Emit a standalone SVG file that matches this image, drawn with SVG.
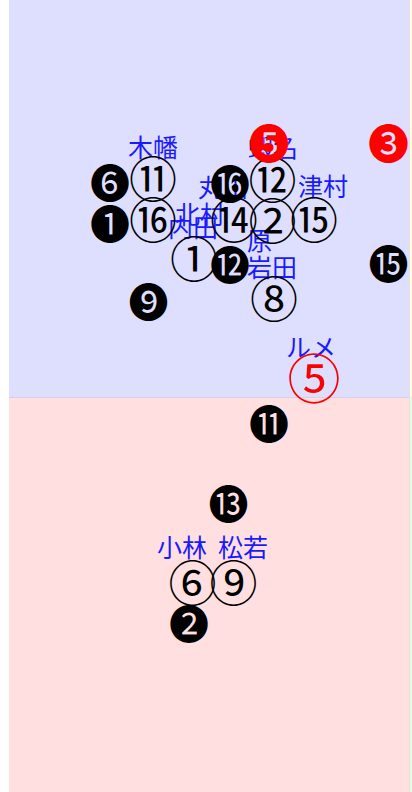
<svg xmlns="http://www.w3.org/2000/svg" width="412" height="792" viewBox="0 0 412 792">
<style>
.m{font-family:"Noto Sans CJK JP","DejaVu Sans",sans-serif;text-anchor:middle;dominant-baseline:central}
.w{font-size:48px;fill:#000}
.b{font-size:40px;fill:#000}
.r{font-size:41px;fill:#f00}
.rw{font-size:53px;fill:#f00}
.lb{font-family:"Noto Sans CJK JP",sans-serif;font-size:25px;fill:#1a1aff}
</style>
<rect x="0" y="0" width="412" height="792" fill="#fff"/>
<rect x="9" y="0" width="400" height="397" fill="#dedfff"/>
<rect x="9" y="397" width="400" height="395" fill="#ffdfdf"/>
<line x1="9" y1="397.5" x2="409" y2="397.5" stroke="#d6d0e6" stroke-width="1"/>
<rect x="409" y="0" width="3" height="397" fill="#ffffe0"/>
<rect x="409" y="397" width="3" height="395" fill="#e0ffe0"/>
<line x1="409.5" y1="0" x2="409.5" y2="792" stroke="#e8e0d8" stroke-width="1"/>
<g id="connectors"/>
<g id="labels">
<text id="l-kowata" class="lb" x="128" y="157">木幡</text>
<text id="l-ebina" class="lb" x="248" y="157">蝦名</text>
<text id="l-maruyama" class="lb" x="198" y="197">丸山</text>
<text id="l-tsumura" class="lb" x="298" y="196">津村</text>
<text id="l-kitamura" class="lb" x="175" y="224">北村</text>
<text id="l-uchida" class="lb" x="168" y="237">内田</text>
<text id="l-hara" class="lb" x="247" y="250">原</text>
<text id="l-iwata" class="lb" x="247" y="277">岩田</text>
<text id="l-rume" class="lb" x="286" y="357">ルメ</text>
<text id="l-kobayashi" class="lb" y="557"><tspan x="157">小林 </tspan><tspan x="218">松若</tspan></text>
</g>
<g id="n-b6"><text class="m b" x="110" y="181">❻</text></g>
<g id="n-b1"><text class="m b" x="110" y="222">❶</text></g>
<g id="n-w11"><text class="m w" x="153" y="176">⑪</text></g>
<g id="n-w16"><text class="m w" x="153" y="217">⑯</text></g>
<g id="n-b16"><text class="m b" x="230" y="182">⓰</text></g>
<g id="n-w12"><text class="m w" x="272.5" y="177">⑫</text></g>
<g id="n-w14"><text class="m w" x="234" y="217">⑭</text></g>
<g id="n-w2"><text class="m w" x="272.5" y="218">②</text></g>
<g id="n-w15"><text class="m w" x="314" y="217">⑮</text></g>
<g id="n-w1"><text class="m w" x="194" y="256">①</text></g>
<g id="n-b12"><text class="m b" x="230" y="263">⓬</text></g>
<g id="n-b9"><text class="m b" x="148.5" y="299.5">❾</text></g>
<g id="n-b15"><text class="m b" x="388.5" y="261.5">⓯</text></g>
<g id="n-w8"><text class="m w" x="274" y="295.5">⑧</text></g>
<g id="n-r5f"><text class="m r" x="269" y="140.5">❺</text></g>
<g id="n-r3"><text class="m r" x="388.5" y="140.5">❸</text></g>
<g id="n-r5"><text class="m rw" x="314" y="376">⑤</text></g>
<g id="n-b11"><text class="m b" x="269" y="421.5">⓫</text></g>
<g id="n-b13"><text class="m b" x="228.5" y="501.5">⓭</text></g>
<g id="n-w6"><text class="m w" x="192.5" y="579.5">⑥</text></g>
<g id="n-w9"><text class="m w" x="233.5" y="579.5">⑨</text></g>
<g id="n-b2"><text class="m b" x="189" y="622">❷</text></g>
</svg>
